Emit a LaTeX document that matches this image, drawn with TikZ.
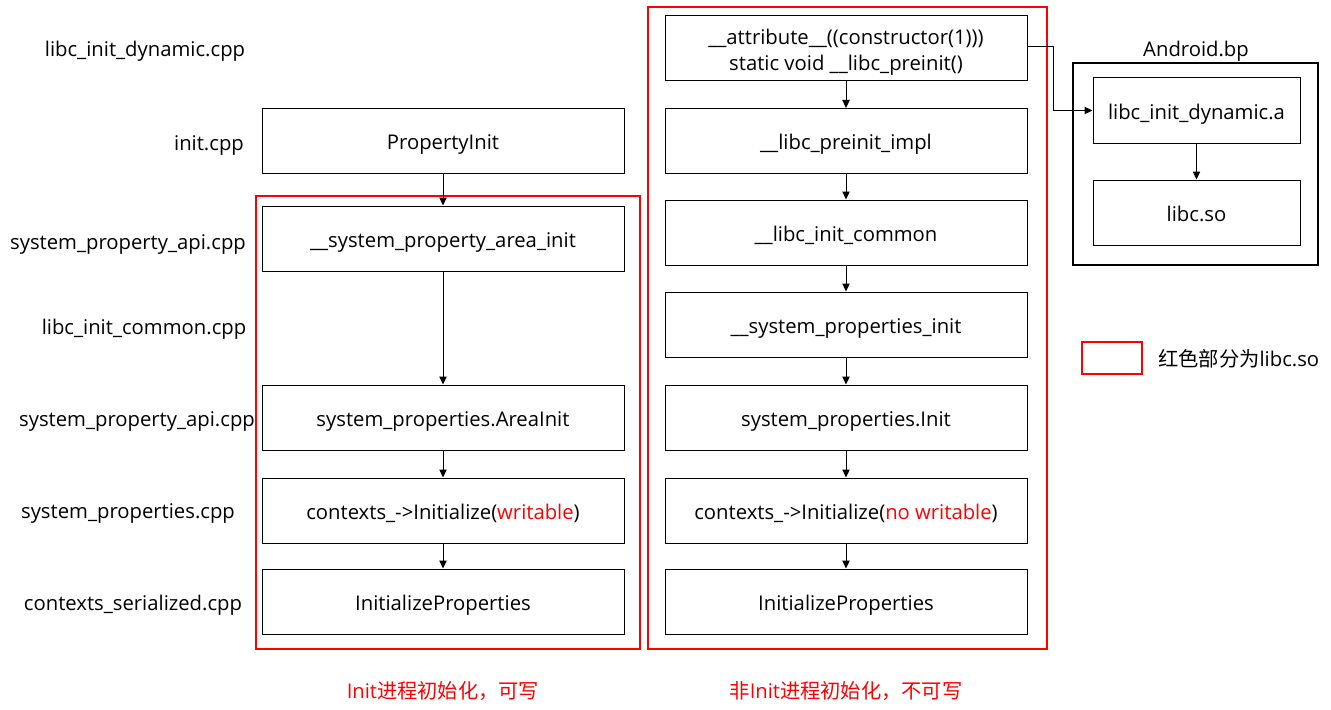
\documentclass[tikz,border=0pt]{standalone}
\usepackage{fontspec}
\setmainfont{Open Sans}
\newfontfamily\cjk{Noto Sans CJK SC}
\usetikzlibrary{arrows.meta,positioning}
\definecolor{rd}{RGB}{255,0,0}
\tikzset{
  txt/.style={font=\fontsize{15.2}{19.5}\selectfont},
  box/.style={draw, line width=0.75pt, minimum width=271.5pt, minimum height=48.75pt, inner sep=0pt, txt, align=center, text height=15pt, text depth=2.2pt},
  sbox/.style={box, minimum width=155.25pt},
  lbl/.style={txt, inner sep=0pt, text height=15pt, text depth=2.2pt},
  arr/.style={-{Triangle[length=6pt,width=5.5pt]}, line width=0.75pt},
  redframe/.style={draw=rd, line width=1.5pt},
}
\begin{document}
\begin{tikzpicture}[x=0.75pt,y=-0.75pt]
\useasboundingbox (0,0) rectangle (1331,710);
% left labels
\node[lbl] (l1) at (145,48) {libc\_init\_dynamic.cpp};
\node[lbl] (l2) at (209,142) {init.cpp};
\node[lbl] (l3) at (128,241) {system\_property\_api.cpp};
\node[lbl] (l4) at (144,326) {libc\_init\_common.cpp};
\node[lbl] (l5) at (137,418) {system\_property\_api.cpp};
\node[lbl] (l6) at (128,510) {system\_properties.cpp};
\node[lbl] (l7) at (133,602) {contexts\_serialized.cpp};
% left column
\node[box] (a1) at (443,140.5) {PropertyInit};
\node[box] (a2) at (443,238.5) {\_\_system\_property\_area\_init};
\node[box] (a3) at (443,417.5) {system\_properties.AreaInit};
\node[box] (a4) at (443,510.5) {contexts\_->Initialize(\textcolor{rd}{writable})};
\node[box] (a5) at (443,601.5) {InitializeProperties};
\draw[redframe] (256,196) rectangle (640,649);
\draw[arr] (a1) -- (a2);
\draw[arr] (a2) -- (a3);
\draw[arr] (a3) -- (a4);
\draw[arr] (a4) -- (a5);
% right column
\node[box, text height=, text depth=] (b1) at (846,48) {\rule{0pt}{18.5pt}\_\_attribute\_\_((constructor(1)))\\static void \_\_libc\_preinit()};
\node[box] (b2) at (846,141) {\_\_libc\_preinit\_impl};
\node[box] (b3) at (846,232.5) {\_\_libc\_init\_common};
\node[box] (b4) at (846,324.5) {\_\_system\_properties\_init};
\node[box] (b5) at (846,417.5) {system\_properties.Init};
\node[box] (b6) at (846,510.5) {contexts\_->Initialize(\textcolor{rd}{no writable})};
\node[box] (b7) at (846,601.5) {InitializeProperties};
\draw[redframe] (648,7) rectangle (1047,649);
\draw[arr] (b1) -- (b2);
\draw[arr] (b2) -- (b3);
\draw[arr] (b3) -- (b4);
\draw[arr] (b4) -- (b5);
\draw[arr] (b5) -- (b6);
\draw[arr] (b6) -- (b7);
% Android.bp
\node[draw, line width=1.9pt, minimum width=183.75pt, minimum height=151.5pt, inner sep=0pt] (abp) at (1195.5,164) {};
\node[lbl] (abpl) at (1196,48) {Android.bp};
\node[sbox] (c1) at (1196.5,110.5) {libc\_init\_dynamic.a};
\node[sbox] (c2) at (1196.5,212.5) {libc.so};
\draw[arr] (c1) -- (c2);
\coordinate (bend) at (1053,47);
\draw[arr] (b1.east |- bend) -- (bend) |- (c1.west);
% legend
\node[draw=rd, line width=1.5pt, minimum width=45pt, minimum height=24pt, inner sep=0pt] (leg) at (1112,358) {};
\node[lbl, anchor=west] (legt) at (1158,358) {{\cjk 红色部分为}libc.so};
% captions
\node[lbl, text=rd] (cap1) at (443,690) {Init{\cjk 进程初始化，可写}};
\node[lbl, text=rd] (cap2) at (846,690) {{\cjk 非}Init{\cjk 进程初始化，不可写}};
\end{tikzpicture}
\end{document}
